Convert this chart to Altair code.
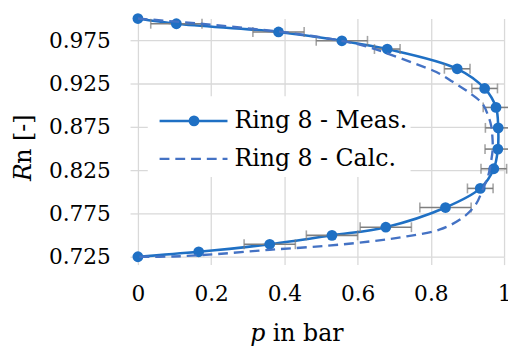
import altair as alt
import pandas as pd

# ---- data ----
p_meas = [0.0, 0.105, 0.384, 0.557, 0.681, 0.872, 0.947, 0.978, 0.984,
          0.983, 0.972, 0.935, 0.840, 0.677, 0.530, 0.360, 0.166, 0.0]
rn_meas = [1.000, 0.9940, 0.9845, 0.9743, 0.9648, 0.9420, 0.9193, 0.8974, 0.8738,
           0.8493, 0.8266, 0.8039, 0.7818, 0.7591, 0.7497, 0.7394, 0.7307, 0.725]
p_err = [0.0, 0.07, 0.07, 0.07, 0.035, 0.035, 0.035, 0.035, 0.035,
         0.035, 0.035, 0.035, 0.07, 0.07, 0.07, 0.07, 0.0, 0.0]

p_calc = [0.0, 0.164, 0.309, 0.430, 0.556, 0.618, 0.680, 0.753, 0.815, 0.860,
          0.905, 0.941, 0.957, 0.965, 0.968, 0.969, 0.965, 0.957, 0.941, 0.922,
          0.887, 0.825, 0.734, 0.637, 0.511, 0.360, 0.215, 0.097, 0.0]
rn_calc = [1.000, 0.9943, 0.9883, 0.9826, 0.9743, 0.9686, 0.9599, 0.9485, 0.9383, 0.9269,
           0.9144, 0.9016, 0.8872, 0.8758, 0.8644, 0.8497, 0.836, 0.819, 0.8019, 0.7848,
           0.7701, 0.7565, 0.7485, 0.7428, 0.7375, 0.733, 0.7281, 0.7253, 0.725]

x_ticks = [0, 0.2, 0.4, 0.6, 0.8, 1]
y_ticks = [0.725, 0.775, 0.825, 0.875, 0.925, 0.975]
legend_labels = ["Ring 8 - Meas.", "Ring 8 - Calc."]

meas = pd.DataFrame({"p": p_meas, "rn": rn_meas, "err": p_err})
meas["i"] = range(len(meas))
meas["lo"] = meas["p"] - meas["err"]
meas["hi"] = meas["p"] + meas["err"]
bars = meas[meas["err"] > 0]
calc = pd.DataFrame({"p": p_calc, "rn": rn_calc})
calc["i"] = range(len(calc))
one = pd.DataFrame({"a": [0]})

BLUE = "#1F70C4"
BLUE2 = "#4472C4"
GRAY = "#7F7F7F"
GRID = "#D9D9D9"
FONT = "DejaVu Serif"

xs = alt.Scale(domain=[0, 1], nice=False)
ys = alt.Scale(domain=[0.725, 1.0], nice=False, zero=False)
xa = alt.Axis(values=x_ticks, format="~g", title="", grid=True, gridColor=GRID,
              gridWidth=1.3, domain=False, tickColor=GRID, tickWidth=1.3, tickSize=8,
              labelFont=FONT, labelFontSize=22, labelColor="black", labelPadding=19,
              labelFlush=False, labelOverlap=False)
ya = alt.Axis(values=y_ticks, format=".3f", title="", grid=True, gridColor=GRID,
              gridWidth=1.3, domain=False, tickColor=GRID, tickWidth=1.3, tickSize=8,
              labelFont=FONT, labelFontSize=22, labelColor="black", labelPadding=20,
              labelFlush=False, labelOverlap=False)


def X(f):
    return alt.X(f, type="quantitative", scale=xs, axis=xa)


def Y(f):
    return alt.Y(f, type="quantitative", scale=ys, axis=ya)


solid = alt.Chart(meas).mark_line(color=BLUE, strokeWidth=2.6, interpolate="catmull-rom").encode(
    x=X("p"), y=Y("rn"), order=alt.Order("i:Q"))
ebar = alt.Chart(bars).mark_rule(color=GRAY, strokeWidth=1.6).encode(
    x=X("lo"), x2="hi", y=Y("rn"))
cap_lo = alt.Chart(bars).mark_tick(color=GRAY, orient="vertical", size=10, thickness=1.6).encode(
    x=X("lo"), y=Y("rn"))
cap_hi = alt.Chart(bars).mark_tick(color=GRAY, orient="vertical", size=10, thickness=1.6).encode(
    x=X("hi"), y=Y("rn"))
pts = alt.Chart(meas).mark_circle(color=BLUE, size=120, opacity=1).encode(
    x=X("p"), y=Y("rn"))
dashed = alt.Chart(calc).mark_line(color=BLUE2, strokeWidth=2.4, strokeDash=[10, 6],
                                   interpolate="catmull-rom").encode(
    x=X("p"), y=Y("rn"), order=alt.Order("i:Q"))

# ---- legend (drawn in plot pixel coordinates) ----
leg_bg = alt.Chart(one).mark_rect(fill="white").encode(
    x=alt.value(10), x2=alt.value(277), y=alt.value(79), y2=alt.value(161))
leg_l1 = alt.Chart(one).mark_rule(color=BLUE, strokeWidth=2.6).encode(
    x=alt.value(22), x2=alt.value(91), y=alt.value(104))
leg_p1 = alt.Chart(one).mark_circle(color=BLUE, size=120, opacity=1).encode(
    x=alt.value(57), y=alt.value(104))
leg_l2 = alt.Chart(one).mark_rule(color=BLUE2, strokeWidth=2.4, strokeDash=[10, 6]).encode(
    x=alt.value(22), x2=alt.value(91), y=alt.value(142.5))
leg_t1 = alt.Chart(one).mark_text(font=FONT, fontSize=24, align="left", baseline="middle",
                                  color="black").encode(
    x=alt.value(98), y=alt.value(104), text=alt.value(legend_labels[0]))
leg_t2 = alt.Chart(one).mark_text(font=FONT, fontSize=24, align="left",
                                  baseline="middle", color="black").encode(
    x=alt.value(98), y=alt.value(142.5), text=alt.value(legend_labels[1]))

# ---- axis titles with italic symbols ----
yt1 = alt.Chart(one).mark_text(font=FONT, fontSize=24, fontStyle="italic", angle=270,
                               align="left", baseline="alphabetic", color="black").encode(
    x=alt.value(-109), y=alt.value(165), text=alt.value("R"))
yt2 = alt.Chart(one).mark_text(font=FONT, fontSize=24, angle=270,
                               align="left", baseline="alphabetic", color="black").encode(
    x=alt.value(-109), y=alt.value(147.5), text=alt.value("n [-]"))
xt1 = alt.Chart(one).mark_text(font=FONT, fontSize=24, fontStyle="italic",
                               align="left", baseline="alphabetic", color="black").encode(
    x=alt.value(114), y=alt.value(328), text=alt.value("p"))
xt2 = alt.Chart(one).mark_text(font=FONT, fontSize=24,
                               align="left", baseline="alphabetic", color="black").encode(
    x=alt.value(137), y=alt.value(328), text=alt.value("in bar"))

chart = alt.layer(
    solid, ebar, cap_lo, cap_hi, pts, dashed,
    leg_bg, leg_l1, leg_p1, leg_l2, leg_t1, leg_t2,
    yt1, yt2, xt1, xt2,
).properties(
    width=372, height=242,
    autosize=alt.AutoSizeParams(type="none"),
    padding={"left": 132, "top": 8, "right": 4, "bottom": 90},
    background="white",
).configure_view(strokeWidth=0)

chart.save("out.html", embed_options={"renderer": "svg", "actions": False})
